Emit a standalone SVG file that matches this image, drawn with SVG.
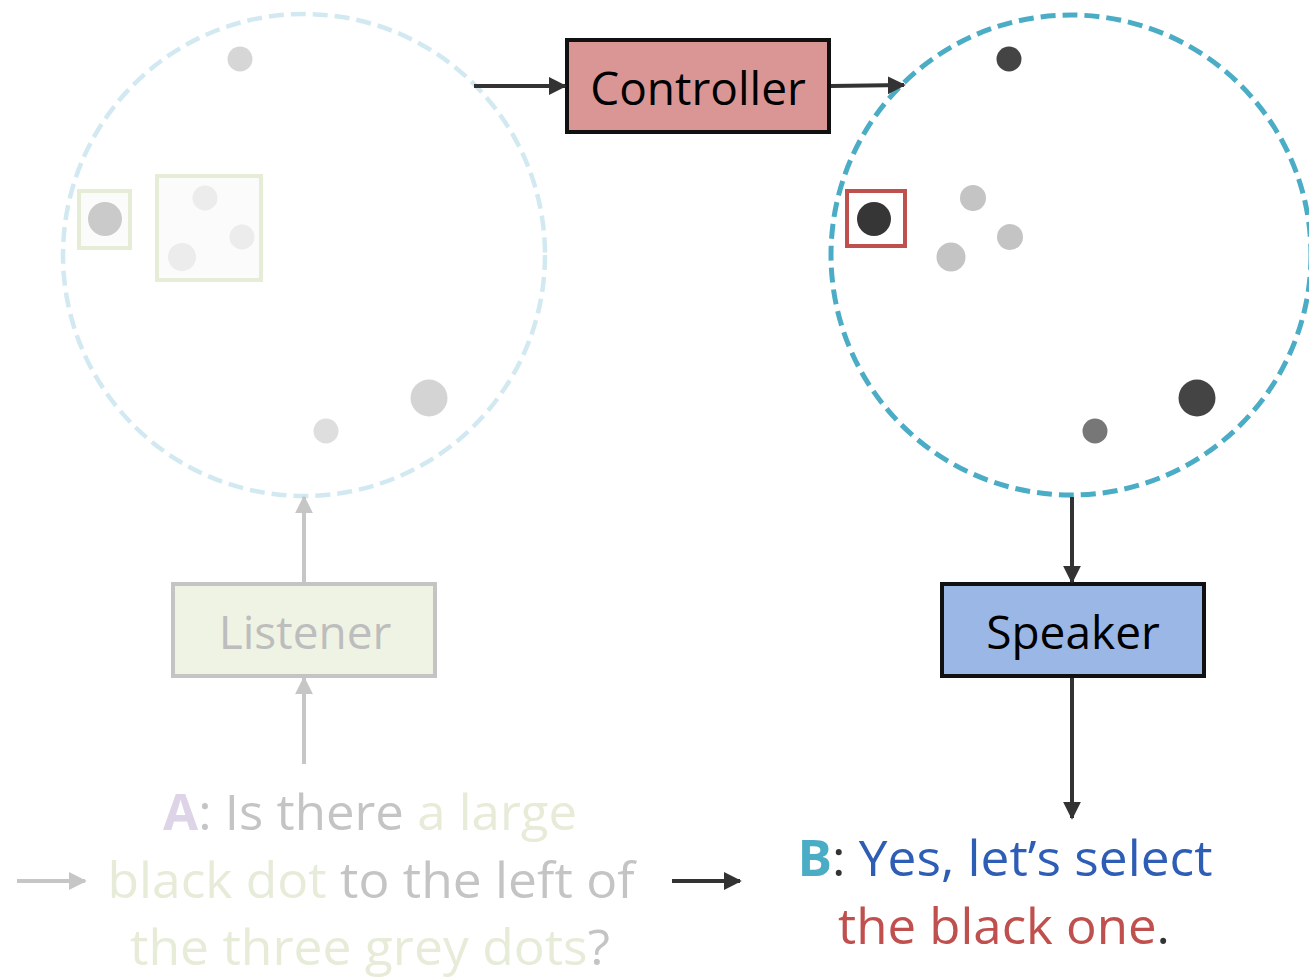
<svg xmlns="http://www.w3.org/2000/svg" width="1309" height="978" viewBox="0 0 1309 978">
  <style>
    text { font-family: "Open Sans", "Noto Sans", "Liberation Sans", sans-serif; }
    .lbl { font-size: 46px; text-anchor: middle; }
    .big { font-size: 50px; }
    .conn-dark { stroke: #333333; stroke-width: 4; fill: none; }
    .conn-grey { stroke: #c6c6c6; stroke-width: 4; fill: none; }
  </style>
  <defs>
    <marker id="ah-dark" viewBox="0 0 10 10" refX="9" refY="5" markerWidth="4.5" markerHeight="4.5" orient="auto" markerUnits="strokeWidth">
      <path d="M0,0 L10,5 L0,10 z" fill="#333333"/>
    </marker>
    <marker id="ah-grey" viewBox="0 0 10 10" refX="9" refY="5" markerWidth="4.5" markerHeight="4.5" orient="auto" markerUnits="strokeWidth">
      <path d="M0,0 L10,5 L0,10 z" fill="#c6c6c6"/>
    </marker>
  </defs>
  <rect width="1309" height="978" fill="#ffffff"/>

  <!-- left scene (faded) -->
  <g id="scene-left">
    <circle cx="304" cy="255" r="241" fill="none" stroke="#d2e9f1" stroke-width="4.5" stroke-dasharray="15 7"/>
    <circle cx="240" cy="59" r="12.5" fill="#d6d6d6"/>
    <rect x="79" y="191" width="51" height="57" fill="#fbfbfb" stroke="#e6edd6" stroke-width="4"/>
    <circle cx="105" cy="219" r="17" fill="#cacaca"/>
    <rect x="157" y="176" width="104" height="104" fill="#fbfbfb" stroke="#e6edd6" stroke-width="4"/>
    <circle cx="205" cy="198" r="12.5" fill="#ececec"/>
    <circle cx="242" cy="237" r="12.5" fill="#ececec"/>
    <circle cx="182" cy="257" r="14" fill="#ececec"/>
    <circle cx="429" cy="398" r="18.5" fill="#d4d4d4"/>
    <circle cx="326" cy="431" r="12.5" fill="#dedede"/>
  </g>

  <!-- right scene -->
  <g id="scene-right">
    <circle cx="1071" cy="255" r="240" fill="none" stroke="#4bacc6" stroke-width="5" stroke-dasharray="15 7"/>
    <circle cx="1009" cy="59" r="12.5" fill="#444444"/>
    <rect x="847" y="191" width="58" height="55" fill="#ffffff" stroke="#c0504d" stroke-width="4"/>
    <circle cx="874" cy="219" r="17" fill="#363636"/>
    <circle cx="973" cy="198" r="13" fill="#c4c4c4"/>
    <circle cx="1010" cy="237" r="13" fill="#c4c4c4"/>
    <circle cx="951" cy="257" r="14.5" fill="#c4c4c4"/>
    <circle cx="1197" cy="398" r="18.5" fill="#444444"/>
    <circle cx="1095" cy="431" r="12.5" fill="#777777"/>
  </g>

  <!-- Controller -->
  <g id="controller">
    <rect x="567" y="40" width="262" height="92" fill="#da9694" stroke="#111111" stroke-width="4"/>
    <text class="lbl" x="698" y="105" fill="#000000">Controller</text>
  </g>

  <!-- Listener -->
  <g id="listener">
    <rect x="173" y="584" width="262" height="92" fill="#eff3e4" stroke="#c4c4c4" stroke-width="4"/>
    <text class="lbl" x="305" y="649" fill="#bdbdbd">Listener</text>
  </g>

  <!-- Speaker -->
  <g id="speaker">
    <rect x="942" y="584" width="262" height="92" fill="#9bb7e6" stroke="#111111" stroke-width="4"/>
    <text class="lbl" x="1073" y="649" fill="#000000">Speaker</text>
  </g>

  <!-- utterance A (faded) -->
  <g id="utterance-a" class="big">
    <text x="370" y="830" text-anchor="middle" textLength="414" lengthAdjust="spacingAndGlyphs"><tspan fill="#ddd4e8" font-weight="bold">A</tspan><tspan fill="#c4c4c4">: Is there </tspan><tspan fill="#e6ecd8">a large</tspan></text>
    <text x="371" y="898" text-anchor="middle" textLength="527" lengthAdjust="spacingAndGlyphs"><tspan fill="#e6ecd8">black dot</tspan><tspan fill="#c4c4c4"> to the left of</tspan></text>
    <text x="370" y="965" text-anchor="middle" textLength="480" lengthAdjust="spacingAndGlyphs"><tspan fill="#e6ecd8">the three grey dots</tspan><tspan fill="#c4c4c4">?</tspan></text>
  </g>

  <!-- utterance B -->
  <g id="utterance-b" class="big">
    <text x="1005" y="876" text-anchor="middle" textLength="415" lengthAdjust="spacingAndGlyphs"><tspan fill="#4bacc6" font-weight="bold">B</tspan><tspan fill="#333333">: </tspan><tspan fill="#2e5db5">Yes, let’s select</tspan></text>
    <text x="1004" y="944" text-anchor="middle" textLength="332" lengthAdjust="spacingAndGlyphs"><tspan fill="#c0504d">the black one</tspan><tspan fill="#333333">.</tspan></text>
  </g>

  <!-- connectors -->
  <g id="connectors">
    <line class="conn-dark" x1="474" y1="86" x2="565" y2="86" marker-end="url(#ah-dark)"/>
    <line class="conn-dark" x1="831" y1="86" x2="904" y2="85" marker-end="url(#ah-dark)"/>
    <line class="conn-dark" x1="1072" y1="497" x2="1072" y2="582" marker-end="url(#ah-dark)"/>
    <line class="conn-dark" x1="1072" y1="678" x2="1072" y2="818" marker-end="url(#ah-dark)"/>
    <line class="conn-dark" x1="672" y1="881" x2="740" y2="881" marker-end="url(#ah-dark)"/>
    <line class="conn-grey" x1="304" y1="582" x2="304" y2="497" marker-end="url(#ah-grey)"/>
    <line class="conn-grey" x1="304" y1="764" x2="304" y2="678" marker-end="url(#ah-grey)"/>
    <line class="conn-grey" x1="17" y1="881" x2="85" y2="881" marker-end="url(#ah-grey)"/>
  </g>
</svg>
